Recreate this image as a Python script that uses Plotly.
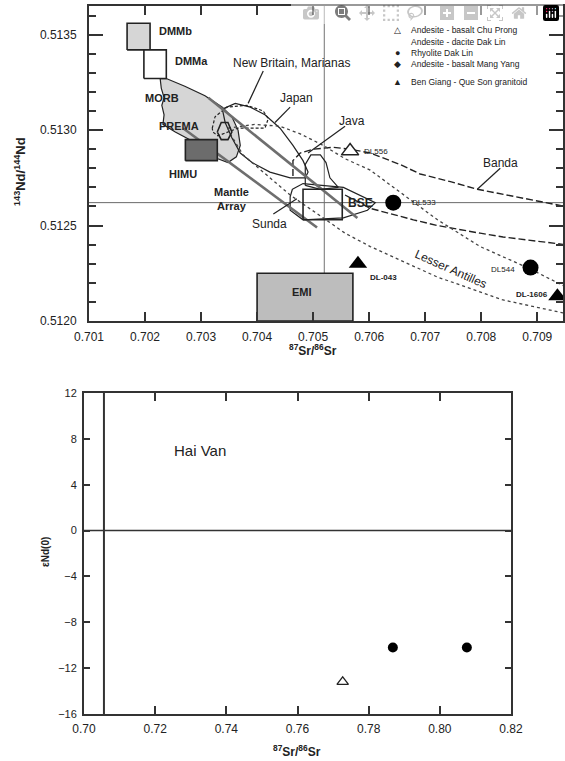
import plotly.graph_objects as go

FONT = "Arial, Liberation Sans, sans-serif"
INK = "#222222"

# ---------------- Top panel: 143Nd/144Nd vs 87Sr/86Sr ----------------
# Reservoir boxes [x0, x1, y0, y1]
dmmb_box = [0.70168, 0.70209, 0.51342, 0.51356]
dmma_box = [0.70198, 0.70238, 0.51327, 0.51342]
himu_box = [0.70272, 0.70329, 0.51284, 0.51295]
bse_box = [0.70482, 0.70552, 0.51253, 0.51269]
emi_box = [0.70400, 0.70571, 0.51200, 0.51225]

prema_x = [0.70329, 0.70336, 0.70348, 0.70355, 0.70348, 0.70336, 0.70329]
prema_y = [0.51299, 0.51304, 0.51304, 0.51299, 0.51295, 0.51295, 0.51299]

morb_x = [0.70227, 0.70238, 0.70271, 0.70307, 0.70338, 0.70355, 0.70366, 0.70370, 0.70363,
          0.70348, 0.70330, 0.70307, 0.70280, 0.70254, 0.70232, 0.70234, 0.70230, 0.70234,
          0.70229, 0.70227]
morb_y = [0.51327, 0.51327, 0.51323, 0.51318, 0.51312, 0.51307, 0.51300, 0.51292, 0.51286,
          0.51283, 0.51285, 0.51289, 0.51295, 0.51299, 0.51303, 0.51308, 0.51313, 0.51317,
          0.51322, 0.51327]

mantle_upper_x = [0.70313, 0.70579]
mantle_upper_y = [0.51317, 0.51254]
mantle_lower_x = [0.70268, 0.70507]
mantle_lower_y = [0.51301, 0.51249]

newbritain_x = [0.70320, 0.70325, 0.70346, 0.70382, 0.70411, 0.70420, 0.70414, 0.70391,
                0.70366, 0.70330, 0.70321, 0.70320]
newbritain_y = [0.51301, 0.51307, 0.51312, 0.51313, 0.51310, 0.51306, 0.51301, 0.51301,
                0.51301, 0.51297, 0.51299, 0.51301]

japan_x = [0.70338, 0.70361, 0.70388, 0.70414, 0.70441, 0.70464, 0.70482, 0.70491, 0.70486,
           0.70459, 0.70423, 0.70391, 0.70370, 0.70355, 0.70343, 0.70338]
japan_y = [0.51311, 0.51314, 0.51312, 0.51308, 0.51301, 0.51292, 0.51284, 0.51278, 0.51275,
           0.51275, 0.51278, 0.51283, 0.51288, 0.51296, 0.51304, 0.51311]

java_x = [0.70486, 0.70486, 0.70496, 0.70513, 0.70523, 0.70530, 0.70545, 0.70513, 0.70486]
java_y = [0.51271, 0.51282, 0.51287, 0.51287, 0.51283, 0.51275, 0.51270, 0.51269, 0.51271]

sunda_x = [0.70463, 0.70482, 0.70554, 0.70589, 0.70611, 0.70597, 0.70554, 0.70482, 0.70459,
           0.70459, 0.70463]
sunda_y = [0.51269, 0.51272, 0.51270, 0.51265, 0.51262, 0.51258, 0.51254, 0.51253, 0.51258,
           0.51265, 0.51269]

banda_upper_x = [0.70464, 0.70464, 0.70477, 0.70500, 0.70536, 0.70566, 0.70602, 0.70655,
                 0.70691, 0.70745, 0.70793, 0.70900, 0.70950]
banda_upper_y = [0.51276, 0.51284, 0.51288, 0.51290, 0.51291, 0.51290, 0.51288, 0.51282,
                 0.51277, 0.51273, 0.51269, 0.51263, 0.51260]
banda_lower_x = [0.70557, 0.70602, 0.70679, 0.70722, 0.70798, 0.70839, 0.70950]
banda_lower_y = [0.51266, 0.51259, 0.51253, 0.51250, 0.51246, 0.51244, 0.51240]

antilles_upper_x = [0.70348, 0.70396, 0.70441, 0.70477, 0.70518, 0.70557, 0.70602, 0.70643,
                    0.70722, 0.70798, 0.70882, 0.70950]
antilles_upper_y = [0.51301, 0.51303, 0.51302, 0.51298, 0.51292, 0.51285, 0.51279, 0.51270,
                    0.51253, 0.51239, 0.51228, 0.51218]
antilles_lower_x = [0.70348, 0.70352, 0.70375, 0.70418, 0.70459, 0.70518, 0.70557, 0.70602,
                    0.70722, 0.70839, 0.70950]
antilles_lower_y = [0.51301, 0.51298, 0.51287, 0.51276, 0.51266, 0.51254, 0.51246, 0.51239,
                    0.51223, 0.51211, 0.51204]

# leader lines [x0, x1], [y0, y1]
leaders = {
    "New Britain": ([0.70411, 0.70384], [0.51331, 0.51314]),
    "Japan": ([0.70459, 0.70432], [0.51312, 0.51304]),
    "Java": ([0.70557, 0.70491], [0.51302, 0.51288]),
    "Banda": ([0.70834, 0.70793], [0.51280, 0.51269]),
    "Sunda": ([0.70429, 0.70471], [0.51256, 0.51264]),
}

bse_sr = 0.7052
bse_nd = 0.51262

# samples
chu_prong_x = [0.70566]
chu_prong_y = [0.51289]
dak_lin_x = [0.70643, 0.70888]
dak_lin_y = [0.51262, 0.51228]
ben_giang_x = [0.70580, 0.70936]
ben_giang_y = [0.51230, 0.51213]

# ---------------- Bottom panel: Hai Van ----------------
hv_chu_prong_x = [0.7727]
hv_chu_prong_y = [-13.2]
hv_dak_lin_x = [0.7868, 0.8076]
hv_dak_lin_y = [-10.2, -10.2]
hv_bse_sr = 0.7056

fig = go.Figure()


def line(x, y, xa="x", ya="y", color=INK, width=1.2, dash="solid", fill=None, fillcolor=None):
    fig.add_trace(go.Scatter(x=x, y=y, xaxis=xa, yaxis=ya, mode="lines",
                             line=dict(color=color, width=width, dash=dash),
                             fill=fill, fillcolor=fillcolor, hoverinfo="skip",
                             showlegend=False))


def box(b, fillcolor, width=1.6):
    x0, x1, y0, y1 = b
    line([x0, x1, x1, x0, x0], [y0, y0, y1, y1, y0], color=INK, width=width,
         fill="toself" if fillcolor else None, fillcolor=fillcolor)


# reference cross lines
line([bse_sr, bse_sr], [0.5120, 0.51365], color="#8a8a8a", width=1.2)
line([0.701, 0.70946], [bse_nd, bse_nd], color="#6a6a6a", width=1)

# MORB field
line(morb_x, morb_y, color=INK, width=1.2, fill="toself", fillcolor="#d6d6d6")
box(dmmb_box, "#d6d6d6")
box(dmma_box, "#ffffff")
box(emi_box, "#bdbdbd")

# envelopes
line(newbritain_x, newbritain_y, dash="3px,2px", width=1.2)
line(japan_x, japan_y, width=1.2)
line(java_x, java_y, width=1.2)
line(sunda_x, sunda_y, width=1.2)
line(banda_upper_x, banda_upper_y, dash="7px,3px", width=1.4)
line(banda_lower_x, banda_lower_y, dash="7px,3px", width=1.4)
line(antilles_upper_x, antilles_upper_y, dash="dot", width=1.3, color="#444")
line(antilles_lower_x, antilles_lower_y, dash="dot", width=1.3, color="#444")

# mantle array
line(mantle_upper_x, mantle_upper_y, color="#6e6e6e", width=2.6)
line(mantle_lower_x, mantle_lower_y, color="#6e6e6e", width=2.6)

box(himu_box, "#6c6c6c")
box(bse_box, None)
line(prema_x, prema_y, width=1.6)

for lx, ly in leaders.values():
    line(lx, ly, width=1.2)

# samples (top)
fig.add_trace(go.Scatter(x=chu_prong_x, y=chu_prong_y, mode="markers", cliponaxis=False,
                         marker=dict(symbol="triangle-up", size=15, color="white",
                                     line=dict(color=INK, width=1.5)), showlegend=False))
fig.add_trace(go.Scatter(x=dak_lin_x, y=dak_lin_y, mode="markers", cliponaxis=False,
                         marker=dict(symbol="circle", size=16, color="black"), showlegend=False))
fig.add_trace(go.Scatter(x=ben_giang_x, y=ben_giang_y, mode="markers", cliponaxis=False,
                         marker=dict(symbol="triangle-up", size=16, color="black"), showlegend=False))

# bottom panel
line([hv_bse_sr, hv_bse_sr], [-16, 12], xa="x2", ya="y2", color="#333", width=2)
line([0.70, 0.82], [0, 0], xa="x2", ya="y2", color="#333", width=1.5)
fig.add_trace(go.Scatter(x=hv_chu_prong_x, y=hv_chu_prong_y, xaxis="x2", yaxis="y2",
                         mode="markers",
                         marker=dict(symbol="triangle-up", size=10, color="white",
                                     line=dict(color=INK, width=1.3)), showlegend=False))
fig.add_trace(go.Scatter(x=hv_dak_lin_x, y=hv_dak_lin_y, xaxis="x2", yaxis="y2",
                         mode="markers",
                         marker=dict(symbol="circle", size=10, color="black"), showlegend=False))

ann = []


def txt(x, y, s, size=11, bold=False, xanchor="center", angle=0, xref="x", yref="y",
        italic=False):
    if bold:
        s = "<b>" + s + "</b>"
    if italic:
        s = "<i>" + s + "</i>"
    ann.append(dict(x=x, y=y, text=s, xref=xref, yref=yref, showarrow=False,
                    xanchor=xanchor, yanchor="middle", textangle=angle,
                    font=dict(family=FONT, size=size, color=INK)))


txt(0.70221, 0.51352, "DMMb", 11, True, "left")
txt(0.70250, 0.51336, "DMMa", 11, True, "left")
txt(0.70230, 0.51317, "MORB", 11, True)
txt(0.70261, 0.51302, "PREMA", 11, True)
txt(0.70268, 0.51277, "HIMU", 11, True)
txt(0.70320, 0.51264, "Mantle<br>Array", 11, True, "left")
txt(0.70584, 0.51262, "BSE", 12, True)
txt(0.70480, 0.51215, "EMI", 11, True)
txt(0.70461, 0.51335, "New Britain, Marianas", 12)
txt(0.70471, 0.51317, "Japan", 12)
txt(0.70570, 0.51305, "Java", 12)
txt(0.70834, 0.51283, "Banda", 12)
txt(0.70423, 0.51251, "Sunda", 12)
txt(0.70745, 0.51227, "Lesser Antilles", 12, angle=24)
txt(0.70588, 0.51289, "DL556", 8, False, "left")
txt(0.70673, 0.51262, "DL533", 8, False, "left")
txt(0.70864, 0.51227, "DL544", 8, False, "right")
txt(0.70598, 0.51223, "DL-043", 8, True, "left")
txt(0.70923, 0.51214, "DL-1606", 8, True, "right")

# legend (top right)
legend_rows = [("△", "Andesite - basalt Chu Prong", 0.9606),
               ("", "Andesite - dacite Dak Lin", 0.9448),
               ("●", "Rhyolite Dak Lin", 0.9304),
               ("◆", "Andesite - basalt Mang Yang", 0.9159),
               ("▲", "Ben Giang - Que Son granitoid", 0.8922)]
for sym, label, yy in legend_rows:
    if sym:
        txt(0.7027, yy, sym, 9, xref="paper", yref="paper")
    txt(0.7239, yy, label, 8.5, False, "left", xref="paper", yref="paper")

# axis titles
txt(0.0354, 0.774, "<sup>143</sup>Nd/<sup>144</sup>Nd", 13, True, angle=-90,
    xref="paper", yref="paper")
txt(0.554, 0.540, "<sup>87</sup>Sr/<sup>86</sup>Sr", 12, True, xref="paper", yref="paper")
txt(0.0796, 0.2746, "εNd(0)", 10, True, angle=-90, xref="paper", yref="paper")
txt(0.5257, 0.0125, "<sup>87</sup>Sr/<sup>86</sup>Sr", 12, True, xref="paper", yref="paper")
txt(0.7248, 6.96, "Hai Van", 15, False, "left", xref="x2", yref="y2")

axis_common = dict(showline=True, linecolor="#333", linewidth=2, mirror="ticks",
                   ticks="inside", tickcolor="#333", tickwidth=2, showgrid=False,
                   zeroline=False, automargin=False,
                   tickfont=dict(family=FONT, size=12, color=INK))

fig.update_layout(
    template="none",
    width=565, height=761, autosize=False,
    margin=dict(l=0, r=0, t=0, b=0, pad=0),
    paper_bgcolor="white", plot_bgcolor="white",
    showlegend=False,
    annotations=ann,
    xaxis=dict(domain=[0.1575, 0.9965], range=[0.701, 0.70946], anchor="y",
               tick0=0.701, dtick=0.001, tickformat=".3f", ticklen=9,
               ticklabelstandoff=4, **axis_common),
    yaxis=dict(domain=[0.5782, 0.9921], range=[0.5120, 0.51365], anchor="x",
               tick0=0.512, dtick=0.0005, tickformat=".4f", ticklen=14,
               ticklabelstandoff=8,
               minor=dict(dtick=0.0001, ticklen=7, ticks="inside", tickcolor="#333",
                          tickwidth=2),
               **axis_common),
    xaxis2=dict(domain=[0.1487, 0.9044], range=[0.70, 0.82], anchor="y2",
                tick0=0.70, dtick=0.02, tickformat=".2f", ticklen=8,
                ticklabelstandoff=3, **axis_common),
    yaxis2=dict(domain=[0.0618, 0.4836], range=[-16, 12], anchor="x2",
                tick0=-16, dtick=4, ticklen=6, ticklabelstandoff=3,
                **{**axis_common, "tickfont": dict(family=FONT, size=11, color=INK)}),
)

fig.write_html("out.html",
               post_script="document.body.style.margin='0';document.body.style.overflow='hidden';")
